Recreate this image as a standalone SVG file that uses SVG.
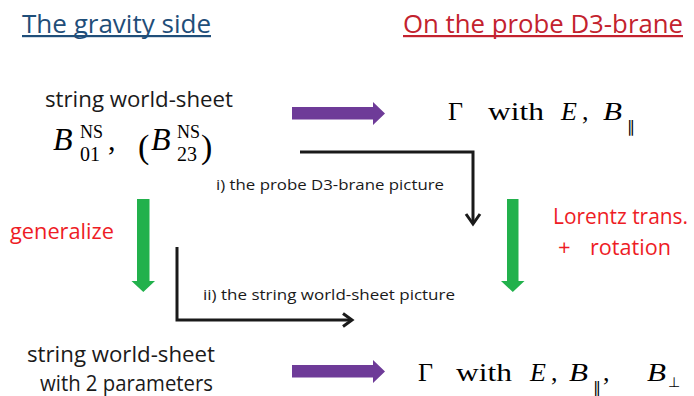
<svg xmlns="http://www.w3.org/2000/svg" width="694" height="396" viewBox="0 0 694 396">
<defs>
<style>
.sans{font-family:"Open Sans","Liberation Sans",sans-serif;}
.math{font-family:"Liberation Serif","DejaVu Serif",serif;fill:#000;}
.sym{font-family:"DejaVu Sans",sans-serif;fill:#000;}
.it{font-style:italic;}
.blue{fill:#1F4E79;}
.red{fill:#C3222E;}
.bright{fill:#EE1C25;}
.txt{fill:#1a1a1a;}
.purple{fill:#6E3B98;}
.green{fill:#22B14C;}
.conn{fill:none;stroke:#1a1a1a;stroke-width:3;}
</style>
</defs>
<rect width="694" height="396" fill="#fff"/>

<g id="title-gravity">
<text class="sans blue" x="22" y="33" font-size="26" textLength="189" lengthAdjust="spacingAndGlyphs">The gravity side</text>
<rect x="22" y="35" width="189" height="2.2" fill="#1F4E79"/>
</g>
<g id="title-probe">
<text class="sans red" x="403" y="33" font-size="26" textLength="280" lengthAdjust="spacingAndGlyphs">On the probe D3-brane</text>
<rect x="403" y="35" width="280" height="2.2" fill="#C3222E"/>
</g>

<g id="node-ws-top">
<text class="sans txt" x="45" y="107" font-size="21" textLength="188" lengthAdjust="spacingAndGlyphs">string world-sheet</text>
<g class="math">
<text class="it" x="53" y="150" font-size="32">B</text>
<text x="80" y="138" font-size="18">NS</text>
<text x="80" y="161" font-size="20">01</text>
<text x="108" y="150" font-size="30">,</text>
<text x="138" y="158" font-size="34">(</text>
<text class="it" x="151" y="150" font-size="32">B</text>
<text x="177" y="138" font-size="18">NS</text>
<text x="177" y="161" font-size="20">23</text>
<text x="201" y="158" font-size="34">)</text>
</g>
</g>

<g id="node-gamma-top" class="math">
<text x="448" y="120" font-size="26">Γ</text>
<text x="488" y="120" font-size="26" textLength="56" lengthAdjust="spacingAndGlyphs">with</text>
<text class="it" x="561" y="120" font-size="26">E</text>
<text x="582" y="120" font-size="26">,</text>
<text class="it" x="603" y="120" font-size="26" textLength="19" lengthAdjust="spacingAndGlyphs">B</text>
<text class="sym" x="627" y="132" font-size="16">∥</text>
</g>

<g id="node-ws-bottom">
<text class="sans txt" x="27" y="362" font-size="21" textLength="188" lengthAdjust="spacingAndGlyphs">string world-sheet</text>
<text class="sans txt" x="40" y="391" font-size="21" textLength="173" lengthAdjust="spacingAndGlyphs">with 2 parameters</text>
</g>

<g id="node-gamma-bottom" class="math">
<text x="418" y="381" font-size="26">Γ</text>
<text x="456" y="381" font-size="26" textLength="56" lengthAdjust="spacingAndGlyphs">with</text>
<text class="it" x="530" y="381" font-size="26">E</text>
<text x="551" y="381" font-size="26">,</text>
<text class="it" x="569" y="381" font-size="26" textLength="19" lengthAdjust="spacingAndGlyphs">B</text>
<text class="sym" x="593" y="393" font-size="16">∥</text>
<text x="603" y="381" font-size="26">,</text>
<text class="it" x="647" y="381" font-size="26" textLength="19" lengthAdjust="spacingAndGlyphs">B</text>
<text class="sym" x="668" y="387" font-size="14">⊥</text>
</g>

<g id="label-generalize">
<text class="sans bright" x="10" y="239" font-size="22" textLength="104" lengthAdjust="spacingAndGlyphs">generalize</text>
</g>
<g id="label-lorentz">
<text class="sans bright" x="553" y="224" font-size="22" textLength="135" lengthAdjust="spacingAndGlyphs">Lorentz trans.</text>
<text class="sans bright" x="558" y="255" font-size="22">+</text>
<text class="sans bright" x="590" y="255" font-size="22" textLength="81" lengthAdjust="spacingAndGlyphs">rotation</text>
</g>

<g id="connectors">
<path class="purple" d="M292,107 H373 V102 L385,113.5 L373,125 V119.5 H292 Z"/>
<path class="purple" d="M292,365 H373 V360 L385,371.5 L373,383 V377.5 H292 Z"/>
<path class="green" d="M137,199 H149.5 V281 H155 L143.3,292 L131.5,281 H137 Z"/>
<path class="green" d="M507,199 H518.5 V281 H524.5 L512.8,292 L501,281 H507 Z"/>
<path class="conn" d="M300,152 H473 V223"/>
<path class="conn" d="M466,214 L473,224 L480,214"/>
<path class="conn" d="M177,247 V320 H351"/>
<path class="conn" d="M343,313.5 L352,320 L343,326.5"/>
<text class="sans txt" x="216" y="190" font-size="14.5" textLength="228" lengthAdjust="spacingAndGlyphs">i) the probe D3-brane picture</text>
<text class="sans txt" x="203" y="300" font-size="14.5" textLength="252" lengthAdjust="spacingAndGlyphs">ii) the string world-sheet picture</text>
</g>
</svg>
